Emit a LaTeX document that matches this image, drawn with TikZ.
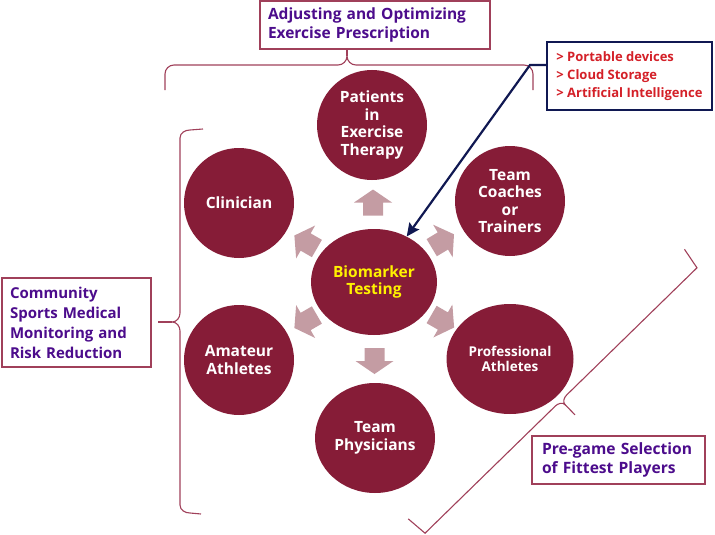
\documentclass[tikz,border=0pt]{standalone}
\usepackage{fontspec}
\setmainfont{Open Sans}
\usepackage{tikz}
\usetikzlibrary{calc, positioning, arrows.meta, shapes.geometric}
\definecolor{wine}{RGB}{134,28,55}
\definecolor{arrowpink}{RGB}{196,156,163}
\definecolor{frame}{RGB}{160,64,90}
\definecolor{labelpurple}{RGB}{76,12,140}
\definecolor{techred}{RGB}{212,32,40}
\definecolor{navy}{RGB}{16,24,82}

\begin{document}
\begin{tikzpicture}[x=1pt, y=1pt, font=\bfseries,
  group/.style={ellipse, fill=wine, text=white, inner sep=0pt, align=center,
    font=\fontsize{15.5}{17.5}\selectfont\bfseries},
  labelbox/.style={draw=frame, line width=1.2pt, fill=white, text=labelpurple,
    align=left, inner sep=0pt, font=\fontsize{15.5}{19.5}\selectfont\bfseries},
  brace/.style={draw=frame, line width=1.1pt}]
  \useasboundingbox (0,0) rectangle (715,-535);

  % the six groups round the test
  \node[group, minimum width=126pt, minimum height=106pt, text=yellow] (bio) at (374,-282) {Biomarker\\Testing};
  \node[group, minimum size=110pt] (patients) at (372,-125) {Patients\\in\\Exercise\\Therapy};
  \node[group, minimum size=110pt] (coaches) at (510,-201) {Team\\Coaches\\or\\Trainers};
  \node[group, minimum width=127pt, minimum height=110pt, font=\fontsize{13.5}{15.5}\selectfont\bfseries] (pros) at (510,-359) {Professional\\Athletes};
  \node[group, minimum width=120pt, minimum height=110pt] (physicians) at (375,-438) {Team\\Physicians};
  \node[group, minimum size=110pt] (amateurs) at (239,-360) {Amateur\\Athletes};
  \node[group, minimum size=110pt] (clinician) at (239,-203) {Clinician};

  \foreach \sat/\ang in {patients/90, coaches/31, pros/-30, physicians/-90, amateurs/-150, clinician/150}
    \fill[arrowpink, shift={($(bio)!0.5!(\sat)$)}, rotate=\ang]
      (-12,-10) -- (1,-10) -- (1,-19) -- (14,0) -- (1,19) -- (1,10) -- (-12,10) -- cycle;

  % labels
  \node[labelbox, minimum width=230pt, minimum height=48pt, text width=214pt] (adjust) at (375,-25)
    {Adjusting and Optimizing\\Exercise Prescription};
  \node[labelbox, minimum width=149pt, minimum height=89pt, text width=133pt,
    font=\fontsize{15}{20}\selectfont\bfseries] (community) at (76.5,-322.5)
    {Community\\Sports Medical\\Monitoring and\\Risk Reduction};
  \node[labelbox, minimum width=173pt, minimum height=48pt, text width=153pt,
    font=\fontsize{15.6}{19}\selectfont\bfseries] (pregame) at (618.5,-460)
    {Pre-game Selection\\of Fittest Players};
  \node[labelbox, draw=navy, line width=2pt, text=techred, minimum width=165pt, minimum height=68pt,
    font=\fontsize{13}{18}\selectfont\bfseries] (tech) at (629.5,-76)
    {> Portable devices\\> Cloud Storage\\> Artificial Intelligence};

  % braces
  \coordinate (tipA) at (347,-56);
  \draw[brace] (165,-90) -- (165,-74) to[out=90,in=180] (174,-65) -- (338,-65)
    to[out=0,in=-90] (tipA) to[out=-90,in=180] (356,-65) -- (524,-65)
    to[out=0,in=90] (533,-74) -- (533,-90);
  \draw[brace] (tipA) -- (tipA |- adjust.south);

  \coordinate (tipB) at (172,-322);
  \draw[brace] (203,-129) -- (190,-130) to[out=180,in=90] (180,-138) -- (180,-313)
    to[out=-90,in=0] (tipB) to[out=0,in=90] (180,-331) -- (180,-505)
    to[out=-90,in=180] (190,-513) -- (201,-514);
  \draw[brace] (tipB) -- ([xshift=6pt]community.east |- tipB);

  \begin{scope}[shift={(561,-400.5)}, rotate=44.3]
    \coordinate (tipC) at (0,-6);
    \draw[brace] (-192,22) -- (-190,0) -- (-8,0) to[out=0,in=90] (tipC)
      to[out=90,in=180] (8,0) -- (190,0) -- (194,22);
    \draw[brace] (tipC) -- (0,-20);
  \end{scope}

  % technology pointer
  \coordinate (bend) at (530,-65);
  \draw[navy, line width=2.2pt, -{Stealth[length=13pt, width=12pt, inset=2pt]}]
    (tech.west |- bend) -- (bend) -- (bio);
\end{tikzpicture}
\end{document}
